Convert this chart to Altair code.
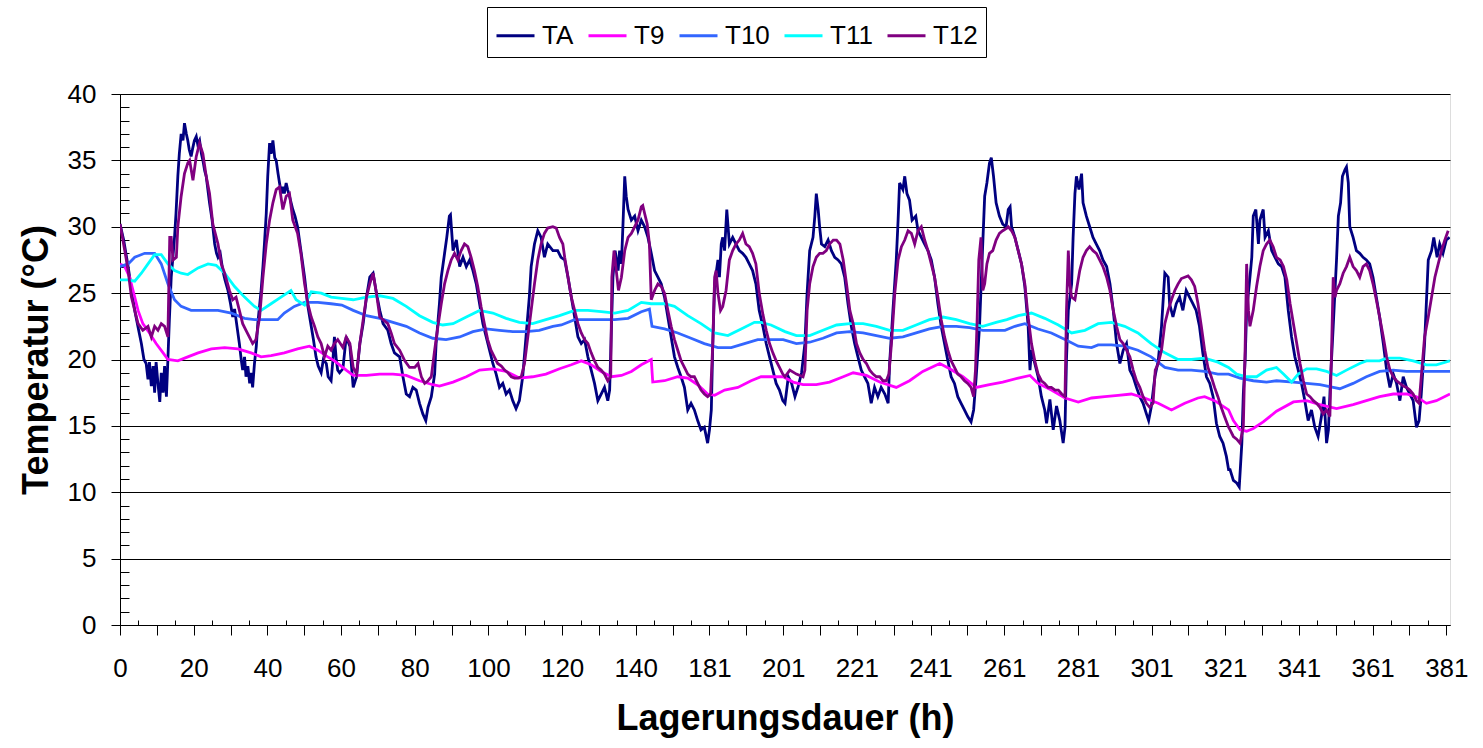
import altair as alt
import pandas as pd

# ---------------- data (x = position on the category axis, y = temperature in °C) -------------
SERIES = ["TA", "T9", "T10", "T11", "T12"]
COLORS = ["#000080", "#FF00FF", "#3366FF", "#00FFFF", "#800080"]

# tick positions and their texts (the axis jumps from 140 h to 181 h because of a gap in the record)
TICK_POS = [0, 20, 40, 60, 80, 100, 120, 140, 160, 180, 200, 220, 240, 260, 280, 300, 320, 340, 360]
TICK_TEXT = ["0", "20", "40", "60", "80", "100", "120", "140", "181", "201", "221", "241",
             "261", "281", "301", "321", "341", "361", "381"]

TA = [
    (0, 30.2), (1, 29), (2.2, 27), (3, 25.5), (4, 23.7), (5, 22.3), (5.8, 21.2), (6.5, 20), (7.1, 19.7),
    (7.6, 18.5), (8, 19.8), (8.5, 18), (9, 19.5), (9.4, 17.5), (9.8, 19.8), (10.3, 18.2), (10.8, 16.8),
    (11.2, 19), (11.7, 17.5), (12.1, 19.5), (12.6, 17.2), (13, 20), (13.4, 23), (13.9, 26.2), (14.3, 27.5),
    (14.8, 29.2), (15.2, 31), (15.7, 33.8), (16.1, 35.5), (16.6, 37), (17.1, 36.5), (17.5, 37.8), (18, 37),
    (18.4, 36.5), (18.8, 35.8), (19.3, 35.3), (19.8, 36), (20.2, 36.5), (20.7, 36.8), (21.1, 36.2),
    (21.6, 36.5), (22.1, 35.5), (22.5, 35), (23, 34.2), (23.4, 33.8), (24.3, 31.8), (25, 30.5), (25.7, 28.7),
    (26.2, 28), (26.6, 27.7), (27.2, 28), (27.9, 26.7), (28.5, 26), (29.3, 25.2), (30, 24.2), (30.6, 23.2),
    (31.1, 23.8), (31.5, 23), (32.4, 21.2), (32.9, 20), (33.3, 19.2), (33.8, 20.2), (34.2, 18.7), (34.7, 19.5),
    (35.2, 18.2), (35.6, 19), (36, 17.9), (36.5, 19.7), (37, 21), (37.4, 22.7), (38.3, 25.2), (38.8, 27),
    (39.2, 28.7), (39.7, 31), (40.1, 33.8), (40.6, 36.3), (41, 35.5), (41.5, 36.5), (42, 35.2), (42.4, 35),
    (42.9, 34), (43.3, 33.3), (43.8, 32.5), (44.2, 33), (44.6, 32.5), (45.1, 33.3), (45.5, 32.8), (46, 32.3),
    (46.9, 31.3), (47.5, 30.8), (48.2, 30), (49.1, 28.2), (50.1, 26.2), (51, 24), (51.9, 22.5), (52.5, 21.5),
    (53.2, 20.2), (53.8, 19.5), (54.6, 19), (55.2, 20), (56, 19.7), (56.5, 18.7), (57.3, 18.4), (57.8, 20),
    (58.2, 21.7), (58.7, 20), (59.1, 19.2), (59.6, 19),
    (60.5, 19.3), (61.4, 21.7), (62.4, 21), (63.3, 17.9), (64.2, 18.7), (65.1, 21.2), (66, 22.7), (66.9, 24.7),
    (67.8, 26.2), (68.7, 26.5), (69.6, 25), (70.5, 23.7), (71.4, 22.7), (72.7, 22.2), (73.6, 21.2), (74.5, 20.5),
    (75.9, 20.2), (76.8, 18.7), (77.7, 17.4), (78.6, 17.2), (79.5, 17.9), (80.4, 17.7), (81.3, 16.7),
    (82.2, 15.9), (83, 15.4), (83.6, 16.4), (84.5, 17.2), (85.4, 18.9), (85.8, 21.2), (86.7, 24.2),
    (87.2, 26.2), (88.1, 28), (88.7, 29.2), (89.4, 30.8), (89.7, 30.9), (90.4, 28.2), (91.3, 29), (92.2, 27),
    (93.1, 27.7), (94, 27), (94.9, 27.5), (95.8, 26.7), (96.7, 25.7), (97.6, 24.2), (98.5, 22.7), (99.4, 21.7),
    (100.3, 20.7), (101.2, 19.7), (102.1, 18.9), (103, 17.9), (103.9, 18.2), (104.8, 17.4), (105.7, 17.7),
    (106.6, 16.9), (107.5, 16.3), (108.4, 16.9), (109.3, 18.7), (110.2, 21.7), (111.1, 24.7), (111.6, 27),
    (112.5, 28.7), (113.4, 29.7), (114.3, 29.2), (115.2, 27.7), (116.1, 28.7), (117.5, 28.2), (118.8, 28.2),
    (119.7, 27.7),
    (120.7, 27.5), (121.6, 26.2), (122.5, 24.7), (123.4, 23.2), (124.3, 21.7), (125.2, 21.2), (126.1, 21.5),
    (127, 20.2), (127.9, 19.2), (128.8, 18.2), (129.7, 16.9), (130.6, 17.4), (131.5, 17.9), (132.4, 16.9),
    (132.9, 17.7), (133.4, 22.5), (133.8, 26.2), (134.4, 28.2), (135.2, 26.7), (135.6, 28.2), (136.1, 27.2),
    (136.5, 30), (137, 33.8), (137.4, 32.3), (137.9, 31.3), (138.8, 30.5), (139.7, 30.8), (140.6, 29.7),
    (141.5, 30.5), (142.4, 30), (143.3, 29.2), (144.2, 28), (145.1, 26.7), (146, 26.2), (146.9, 25.7),
    (147.8, 24.7), (148.7, 23.2), (149.6, 21.7), (150.5, 20.2), (151.4, 19.4), (152.3, 18.7), (153.2, 17.9),
    (154.1, 16.2), (155, 16.7), (155.9, 16.2), (156.8, 15.4), (157.7, 14.7), (158.6, 14.9), (159.5, 13.7),
    (160, 14.7), (160.5, 16.2), (160.9, 21.2), (161.4, 25.7), (162.3, 27.5), (162.7, 26.2), (163.2, 28.7),
    (163.6, 29.2), (164.1, 28.2), (164.7, 31.3), (165.4, 28.7), (166.3, 29.2), (167.2, 28.7), (168.1, 28.2),
    (169, 28), (169.9, 27.7), (170.8, 27.2), (171.7, 26.7), (172.6, 25.7), (173.5, 23.7), (174.5, 22.5),
    (175.4, 21.2), (176.3, 20.2), (177.2, 19.2), (178.1, 18.2), (179, 17.7), (179.9, 16.9),
    (180.5, 16.7), (181.4, 18.7), (182.3, 18.2), (183.2, 17.2), (184.1, 18), (185, 19), (185.9, 21.2),
    (186.5, 25), (187.2, 28.2), (188.1, 29.2), (188.6, 30.8), (189, 32.5), (189.5, 31.3), (189.9, 30),
    (190.4, 28.7), (191.3, 28.5), (192.2, 29), (193.1, 28.2), (194, 27.7), (194.9, 27.5), (195.8, 27.2),
    (196.7, 26.2), (197.6, 24.2), (198.5, 22.5), (199.4, 21.2), (200.3, 20.2), (201.2, 19.2), (202.1, 18.7),
    (203, 18.2), (203.9, 16.7), (204.8, 17.9), (205.7, 17.2), (206.6, 17.9), (207.6, 17.4), (208.5, 16.7),
    (208.9, 19.7), (209.8, 23.7), (210.7, 27.5), (211.2, 30.5), (211.6, 33.3), (212.5, 32.8), (213, 33.8),
    (213.6, 32.5), (214.3, 32), (215, 30.5), (216, 30.8), (216.6, 29.7), (217.5, 29.2), (218.4, 28.7),
    (219.3, 28.2), (220.2, 27.5), (221.1, 26.2), (222, 24.2), (222.9, 22.5), (223.8, 21.2), (224.7, 19.9),
    (225.6, 18.7), (226.5, 18.2), (227.4, 17.2), (228.3, 16.7), (229.2, 16.2), (230.1, 15.7), (231, 15.3),
    (231.7, 16.2), (232.4, 18.7), (233.3, 22.5), (234, 27.5), (234.7, 32.3), (235.3, 33.3), (236, 34.8),
    (236.5, 35.2), (237.1, 33.8), (237.8, 31.8), (238.7, 30.8), (239.6, 30.2), (240.5, 30),
    (241.1, 31.3), (241.6, 31.5), (242, 30), (242.9, 29.2), (243.8, 28.2), (244.7, 27.2), (245.6, 25.5),
    (246.5, 22.5), (247, 19.2), (247.4, 20.7), (248.3, 19.7), (249.2, 18.7), (250.1, 17.2), (251, 16.2),
    (251.5, 15.2), (252.4, 17), (253.3, 14.7), (254.2, 16.5), (255.1, 15.4), (256, 13.7), (256.5, 14.9),
    (256.9, 20), (257.4, 23.7), (258.3, 25.7), (258.7, 29.2), (259.2, 32.5), (259.6, 33.8), (260.3, 32.8),
    (261, 34), (261.4, 31.8), (262.3, 30.8), (263.2, 30), (264.1, 29.2), (265, 28.7), (265.9, 28.2),
    (266.8, 27.5), (267.8, 27), (268.7, 25.7), (269.6, 23.7), (270.5, 21.2), (271.4, 19.7), (272.3, 20.7),
    (273.2, 21.2), (274.1, 19.2), (275, 18.7), (275.9, 17.9), (276.8, 17.2), (277.7, 16.7), (278.6, 15.9),
    (279.2, 15.4), (279.9, 16.4), (280.9, 18.7), (281.8, 19.9), (282.7, 22.5), (283.6, 26.5), (284.5, 26.2),
    (284.9, 24.2), (285.8, 23.2), (286.7, 24.2), (287.6, 24.7), (288.5, 23.7), (289.4, 25.2), (290.3, 24.7),
    (291.2, 24.2), (292.1, 23.7), (293, 22.5), (293.9, 20.5), (294.9, 18.7), (295.8, 18.2), (296.7, 17.2),
    (297.6, 15.2), (298.5, 14.2), (299.4, 13.7), (300.3, 12.7), (300.9, 11.7),
    (301.3, 11.7), (302.2, 10.9), (303.1, 10.7), (303.8, 10.4), (304.5, 13.7), (304.9, 17.4), (305.4, 20),
    (305.8, 23.7), (306.7, 26.2), (307.2, 27.7), (307.6, 30.8), (308.3, 31.3), (309, 28.7), (309.4, 30.5),
    (310.3, 31.3), (310.8, 29.2), (311.7, 29.7), (312.6, 28.2), (313.5, 27.7), (314.4, 27.2), (315.3, 27),
    (316.2, 26.2), (317.1, 23.7), (318, 21.7), (318.9, 20.2), (319.8, 19.2), (320.7, 18.2), (321.6, 16.9),
    (322.5, 15.4), (323.4, 16.2), (324.3, 14.9), (325.2, 14.2), (326.1, 15.7), (326.8, 17.2), (327.5, 13.7),
    (328, 14.7), (328.6, 18.7), (329.3, 22.5), (330.2, 27.5), (330.7, 30.8), (331.3, 31.8), (331.8, 33.8),
    (332.5, 34.3), (332.9, 34.5), (333.4, 33.3), (333.8, 30), (334.7, 29.2), (335.6, 28.2), (336.5, 28),
    (337.4, 27.7), (338.3, 27.5), (339.2, 27.2), (340.1, 26.2), (341, 24.7), (341.9, 23.2), (342.9, 21.2),
    (343.8, 19.2), (344.7, 17.9), (345.6, 18.9), (346.5, 18.2), (347.4, 16.9), (348.3, 18.7), (349.2, 17.9),
    (350.1, 17.4), (351, 16.9), (351.9, 14.9), (352.6, 15.4), (353.2, 17.4), (354.1, 21.2), (355.1, 27.5),
    (356, 28.2), (356.6, 29.2), (357.5, 27.7), (358.2, 28.7), (359.1, 28), (360, 29), (360.9, 29.2),
]

T9 = [
    (0, 27.2), (1.3, 27), (2.6, 26.2), (4, 24.7), (4.9, 23.7), (6.2, 22.7), (8, 22), (9.8, 21.2), (11.7, 20.5),
    (13, 20), (15.7, 19.9), (18.4, 20.2), (21.2, 20.5), (24.8, 20.8), (28.4, 20.9), (32, 20.8), (35.6, 20.5),
    (38.3, 20.2), (41, 20.3), (44.6, 20.5), (48.2, 20.8), (51.4, 21), (53.7, 20.7), (56.4, 20.2), (58.2, 19.9),
    (59.6, 19.6), (61.4, 19.2), (63.3, 18.8), (66.9, 18.8), (70.5, 18.9), (74.1, 18.9), (77.7, 18.8),
    (81.3, 18.4), (84.9, 18.1), (86.7, 18), (90.4, 18.3), (94, 18.7), (97.6, 19.2), (101.2, 19.3),
    (104.8, 19.1), (108.4, 18.6), (112, 18.7), (115.6, 18.9), (119.3, 19.3),
    (122.5, 19.6), (125.2, 19.9), (127.9, 19.6), (130.6, 19.1), (133.4, 18.7), (136.1, 18.8), (138.8, 19.1),
    (141.5, 19.6), (144.2, 20), (144.6, 18.3), (147.8, 18.4), (151.4, 18.7), (154.1, 18.6), (156.8, 18.1),
    (159.5, 17.4), (161.4, 17.3), (164.1, 17.7), (167.7, 17.9), (171.3, 18.4), (174, 18.7), (176.7, 18.7),
    (180, 18.7), (182.7, 18.3), (185.4, 18.1), (189, 18.1), (192.6, 18.3), (196.3, 18.7), (199, 19),
    (202.6, 18.8), (206.2, 18.3), (210.7, 17.9), (214.3, 18.4), (217.9, 19.1), (222.5, 19.7), (225.2, 19.3),
    (228.8, 18.7), (232.4, 17.9), (236, 18.1), (239.6, 18.3),
    (243.8, 18.6), (247, 18.8), (249.2, 18.2), (252.8, 17.7), (256.5, 17.1), (260.1, 16.8), (263.7, 17.1),
    (267.3, 17.2), (270.9, 17.3), (274.5, 17.4), (278.1, 17.1), (281.8, 16.7), (285.4, 16.2), (289, 16.7),
    (292.6, 17.1), (294.4, 17.2), (297.1, 16.9), (300.9, 16.2),
    (302.2, 15.4), (304, 14.7), (305.8, 14.6), (307.6, 14.8), (310.3, 15.3), (313.9, 16.1), (318.5, 16.8),
    (322.1, 16.9), (325.7, 16.6), (330.2, 16.3), (334.7, 16.6), (338.3, 16.9), (341.9, 17.2), (345.6, 17.4),
    (349.2, 17.4), (351.9, 17.2), (354.6, 16.7), (357.3, 16.9), (361, 17.4),
]

T10 = [
    (0, 27), (2.2, 27.2), (4, 27.7), (6.7, 28), (9.4, 28), (11.2, 27.2), (13, 25.7), (14.8, 24.5), (16.6, 24),
    (19.3, 23.7), (23, 23.7), (26.6, 23.7), (30.2, 23.5), (33.8, 23.1), (36.5, 23), (39.2, 23), (42.8, 23),
    (44.6, 23.5), (47.3, 24), (50.1, 24.3), (53.7, 24.3), (57.3, 24.2), (60.2, 24.1),
    (63.3, 23.7), (66.9, 23.3), (70.5, 23.1), (74.1, 22.8), (77.7, 22.5), (81.3, 22), (84.9, 21.6),
    (88.5, 21.5), (92.2, 21.7), (95.8, 22.1), (99.4, 22.3), (103, 22.2), (106.6, 22.1), (110.2, 22.1),
    (113.8, 22.2), (117.5, 22.5), (119.8, 22.6),
    (123.4, 23), (127, 23), (130.6, 23), (134.3, 23), (137.9, 23.1), (141.5, 23.6), (143.7, 23.8),
    (144.4, 22.5), (147.8, 22.3), (151.4, 22), (155, 21.6), (158.6, 21.2), (162.3, 20.9), (165.9, 20.9),
    (169.5, 21.2), (173.1, 21.5), (176.7, 21.5), (180, 21.5),
    (183.6, 21.2), (187.2, 21.3), (190.8, 21.6), (194.5, 22), (198.1, 22.1), (201.7, 22), (205.3, 21.8),
    (208.9, 21.6), (212.5, 21.7), (216.1, 22), (219.7, 22.3), (223.4, 22.5), (227, 22.5), (230.6, 22.4),
    (234.2, 22.2), (237.8, 22.2), (240.2, 22.2),
    (242.9, 22.5), (245.6, 22.7), (249.2, 22.3), (252.8, 22), (256.5, 21.5), (260.1, 21), (263.7, 20.9),
    (265.5, 21.1), (269.1, 21.1), (272.7, 21), (276.3, 20.7), (279.9, 20.2), (283.6, 19.4), (287.2, 19.2),
    (290.8, 19.2), (294.4, 19.1), (298, 18.9), (300.9, 18.9),
    (304, 18.6), (307.6, 18.4), (311.2, 18.3), (313.9, 18.4), (318.5, 18.3), (322.1, 18.2), (325.7, 18.1),
    (329.3, 17.9), (331.1, 17.8), (334.7, 18.2), (338.3, 18.7), (341.9, 19.1), (345.6, 19.2), (349.2, 19.1),
    (352.8, 19.1), (356.4, 19.1), (361, 19.1),
]

T11 = [
    (0, 26), (2.2, 26), (4, 25.9), (5.8, 26.5), (7.6, 27.2), (9.4, 27.9), (11.2, 27.9), (13, 27.2),
    (14.8, 26.7), (16.6, 26.5), (18.4, 26.4), (21.2, 26.9), (23.9, 27.2), (26.1, 27.1), (28.4, 26.5),
    (31.1, 25.5), (33.8, 24.7), (36.5, 24), (38.3, 23.7), (41, 24.2), (43.7, 24.7), (46.4, 25.2),
    (47.8, 24.5), (50.1, 24.1), (51.9, 25.1), (54.6, 25), (57.3, 24.7), (60.2, 24.6),
    (63.3, 24.5), (66.9, 24.7), (70.5, 24.8), (74.1, 24.6), (77.7, 24), (81.3, 23.3), (84.9, 22.8),
    (87.6, 22.6), (90.4, 22.7), (94, 23.2), (97.6, 23.7), (101.2, 23.5), (104.8, 23.1), (108.4, 22.8),
    (112, 22.7), (115.6, 23), (119.3, 23.3),
    (123.4, 23.7), (127, 23.7), (130.6, 23.6), (134.3, 23.5), (137.9, 23.7), (141.5, 24.3), (144.2, 24.2),
    (147.8, 24.2), (150.5, 24), (154.1, 23.3), (157.7, 22.7), (161.4, 22), (165, 21.8), (168.6, 22.3),
    (172.2, 22.8), (174, 22.8), (176.7, 22.6), (180.5, 22.1),
    (183.6, 21.8), (187.2, 21.8), (190.8, 22.2), (194.5, 22.6), (198.1, 22.7), (201.7, 22.7), (205.3, 22.5),
    (208.9, 22.2), (212.5, 22.2), (216.1, 22.6), (219.7, 23), (223.4, 23.2), (227, 23), (230.6, 22.7),
    (234.2, 22.5), (237.8, 22.8), (240.7, 23),
    (243.8, 23.3), (247.4, 23.5), (251, 23.1), (254.7, 22.6), (258.3, 22), (261.9, 22.2), (265.5, 22.7),
    (269.1, 22.8), (272.7, 22.5), (276.3, 22), (279.9, 21.2), (283.6, 20.5), (287.2, 20), (290.8, 20),
    (294.4, 20.1), (298, 19.8), (300.9, 19.4),
    (303.1, 18.9), (305.8, 18.7), (308.5, 18.7), (311.2, 19.2), (313.9, 19.4), (315.8, 18.9), (318, 18.3),
    (319.8, 18.9), (322.1, 19.3), (324.8, 19.3), (327.5, 19.1), (330.2, 18.8), (332.9, 19.2), (336.5, 19.7),
    (338.3, 19.9), (341.9, 19.9), (343.8, 20.1), (347.4, 20.1), (351, 19.9), (354.6, 19.6), (357.3, 19.6),
    (361, 19.9),
]

T12 = [
    (0, 30.2), (1.3, 28.2), (2.2, 26.7), (3.1, 24.7), (4, 23.7), (4.9, 22.7), (6.2, 22.2), (7.6, 22.5),
    (8.5, 21.7), (9.4, 22.5), (10.3, 22.2), (11.2, 22.7), (12.1, 22.5), (13, 21.7), (13.5, 29.2),
    (13.9, 29.2), (14.4, 27.5), (15.3, 27.7), (15.7, 30), (16.6, 32.3), (17.5, 34), (18.4, 34.8), (18.9, 35),
    (19.8, 33.5), (20.7, 35.3), (21.6, 36.3), (22.5, 35.5), (23.4, 33.8), (24.3, 32.5), (25.2, 30.2),
    (26.6, 28.7), (27.5, 27.2), (28.4, 26.5), (29.7, 25.2), (30.6, 24.5), (31.5, 24.7), (32.4, 23.7),
    (33.3, 22.7), (34.2, 22.2), (35.1, 21.7), (36, 21.2), (36.9, 21.5), (37.9, 23.2), (38.8, 26.2),
    (39.7, 28.7), (40.6, 30.5), (41.5, 31.8), (42.4, 32.8), (43.3, 33), (44.2, 31.3), (45.1, 32.3),
    (46, 32.5), (46.9, 30.5), (48.2, 29.5), (49.1, 28), (50.1, 25.7), (51, 24.2), (51.9, 23.2), (52.8, 22.5),
    (53.7, 21.7), (54.6, 21.2), (55.5, 20.2), (56.4, 21), (57.3, 20.7), (58.2, 21.2), (59.1, 21.5),
    (60.5, 20.9), (61.4, 21.7), (62.4, 21.2), (63.3, 19.4), (64.2, 18.9), (65.1, 21.2), (66, 23), (66.9, 24.7),
    (67.8, 25.7), (68.7, 26.5), (69.6, 25), (70.5, 23.2), (71.4, 23), (72.7, 22.7), (73.6, 22), (74.5, 21.2),
    (75.9, 20.7), (77.3, 19.9), (78.6, 19.4), (80, 19.4), (80.9, 19.7), (81.8, 18.7), (82.7, 18.2),
    (83.6, 18.4), (84.5, 18.7), (85.4, 20.7), (86.3, 22.5), (87.2, 24.2), (88.1, 25.7), (89, 26.7),
    (89.9, 27.5), (90.8, 28), (91.7, 27.5), (92.6, 28.2), (93.5, 28.7), (94.4, 28.5), (95.3, 27.7),
    (96.2, 26.7), (97.1, 25.5), (98, 24), (98.9, 22.7), (99.8, 21.5), (100.7, 20.7), (101.6, 20.2),
    (102.5, 19.7), (103.5, 19.5), (104.4, 19.2), (105.3, 19), (106.2, 18.7), (107.1, 18.6), (108, 18.6),
    (108.9, 18.7), (109.8, 19.7), (110.7, 21.7), (111.6, 23.7), (112.5, 25.7), (113.4, 27.5), (114.3, 28.7),
    (115.2, 29.5), (116.1, 29.9), (117.5, 30), (118.4, 29.9), (119.3, 29.2), (120.2, 28.7),
    (120.7, 27.7), (121.6, 26.2), (122.5, 24.7), (123.4, 23.7), (124.3, 22.7), (125.2, 22), (126.1, 21.5),
    (127, 21.2), (127.9, 20.5), (128.8, 19.9), (129.7, 19.4), (130.6, 19.2), (131.5, 18.9), (132.4, 18.4),
    (133.2, 18.7), (133.5, 26.2), (134.1, 28.2), (134.7, 26.7), (135.3, 25.2), (136.1, 26.2), (137, 28.2),
    (137.9, 29.2), (138.8, 29.5), (139.7, 30), (140.6, 30.5), (141.5, 31.5), (141.9, 31.6), (142.4, 31),
    (143.1, 30.2), (143.7, 28.7), (144.2, 24.5), (145.1, 25.2), (146, 25.7), (146.9, 25.5), (147.8, 25),
    (148.7, 23.7), (149.6, 22.5), (150.5, 21.5), (151.4, 20.7), (152.3, 19.9), (153.2, 19.4), (154.1, 18.9),
    (155, 18.7), (155.9, 18.7), (156.8, 18.2), (157.7, 17.7), (158.6, 17.4), (159.5, 17.2), (160.3, 17.4),
    (160.9, 21.2), (161.4, 26.2), (161.8, 26.7), (162.3, 25), (163, 23.7), (163.6, 24), (164.5, 25.2),
    (165.4, 27.5), (166.3, 28.2), (167.2, 28.7), (168.1, 29), (169, 29.5), (169.9, 28.7), (170.8, 28.5),
    (171.7, 28), (172.6, 27.2), (173.5, 25), (174.5, 23.4), (175.4, 22.2), (176.3, 21.2), (177.2, 20.5),
    (178.1, 19.9), (179, 19.4), (179.9, 18.9), (180.5, 18.7),
    (181.8, 19.2), (183.6, 18.9), (185.4, 18.7), (185.9, 19.2), (186.5, 23.7), (187.2, 25.7), (188.1, 27),
    (189, 27.7), (189.9, 28), (190.8, 28), (191.7, 28.2), (192.6, 28.7), (193.6, 29), (194.5, 29),
    (195.4, 28.7), (196.3, 27.5), (197.2, 25.7), (198.1, 23.7), (199, 22.7), (199.9, 21.2), (200.8, 20.5),
    (201.7, 20), (202.6, 19.7), (203.5, 19.2), (204.4, 18.9), (205.3, 18.7), (206.2, 18.7), (207.1, 18.4),
    (208, 18.4), (208.7, 18.9), (209.4, 21.2), (210.3, 25), (211.2, 27.5), (212.1, 28.5), (213, 29),
    (213.9, 29.7), (214.8, 29.5), (215.7, 28.7), (216.6, 29.7), (217.5, 30), (218.4, 29), (219.3, 28.2),
    (220.2, 27.2), (221.1, 26.2), (222, 24.7), (222.9, 23), (223.8, 21.7), (224.7, 20.7), (225.6, 19.9),
    (226.5, 19.4), (227.4, 18.9), (228.3, 18.7), (229.2, 18.4), (230.1, 18.2), (231, 17.9), (231.7, 17.2),
    (232.2, 19.2), (232.6, 22.5), (233.1, 27.5), (233.7, 29.2), (234.2, 25.2), (234.7, 25.7), (235.3, 27.2),
    (236, 28), (236.9, 28.2), (237.8, 29), (238.7, 29.5), (239.6, 29.7), (240.7, 29.9),
    (241.1, 30), (242, 29.7), (242.9, 29.2), (243.8, 28.2), (244.7, 27.2), (245.6, 25.7), (246.5, 23.2),
    (247.4, 21.2), (248.3, 19.9), (249.2, 18.9), (250.1, 18.4), (251, 18.2), (251.9, 17.9), (252.8, 17.9),
    (253.8, 17.7), (254.7, 17.7), (255.6, 17.4), (256.5, 17.2), (256.9, 23.7), (257.4, 28.2), (257.8, 25.7),
    (258.3, 24.7), (259.2, 24.5), (259.6, 25.2), (260.5, 26.7), (261.4, 27.7), (262.3, 28.2), (263.2, 28.5),
    (264.1, 28.2), (265, 28), (265.9, 27.5), (266.8, 27), (267.8, 26.2), (268.7, 25.2), (269.6, 23.7),
    (270.5, 22.5), (271.4, 21.5), (272.3, 21.2), (273.2, 20.7), (274.1, 20.2), (275, 19.2), (275.9, 18.4),
    (276.8, 17.9), (277.7, 17.2), (278.6, 16.7), (279.5, 16.4), (280.4, 16.7), (281, 19.2), (281.8, 19.7),
    (282.7, 20.7), (283.6, 22.7), (284.5, 23.7), (285.4, 24.5), (286.3, 25.2), (287.2, 25.7), (288.1, 26.1),
    (289, 26.2), (289.9, 26.3), (290.8, 26), (291.7, 25.5), (292.6, 24.2), (293.5, 22.5), (294.4, 20.7),
    (295.3, 19.4), (296.2, 18.7), (297.1, 17.9), (298, 17.2), (298.9, 16.4), (299.8, 15.7), (300.9, 14.9),
    (301.3, 14.7), (302.2, 14.2), (303.1, 14), (304, 13.7), (304.9, 14.9), (305.4, 21), (305.8, 27.2),
    (306.3, 23.7), (306.7, 22.5), (307.6, 23.7), (308.5, 25.5), (309.4, 27), (310.3, 28.2), (311.2, 28.7),
    (312.1, 29), (313, 28.5), (313.9, 27.7), (314.9, 27.5), (315.8, 27), (316.7, 26), (317.6, 24.2),
    (318.5, 22.7), (319.4, 21.2), (320.3, 19.7), (321.2, 18.4), (322.1, 17.4), (323, 17.2), (323.9, 16.9),
    (324.8, 16.7), (325.7, 16.4), (326.6, 15.9), (327.5, 16.2), (328.4, 15.7), (328.9, 21.2), (329.3, 26.2),
    (329.8, 24.7), (330.2, 25.2), (331.1, 25.7), (332, 26.5), (332.9, 27), (333.8, 27.7), (334.7, 27),
    (335.6, 26.7), (336.5, 26.2), (337.4, 27), (338.3, 27.2), (339.2, 26.7), (340.1, 25.7), (341, 24.5),
    (341.9, 23.2), (342.9, 21.7), (343.8, 20.2), (344.7, 19.2), (345.6, 18.7), (346.5, 18.4), (347.4, 18.2),
    (348.3, 18), (349.2, 17.9), (350.1, 17.7), (351, 17.4), (351.9, 16.9), (352.6, 16.7), (353.2, 18.7),
    (354.1, 21.7), (355.1, 23.2), (356, 24.7), (356.9, 26.2), (357.8, 27.2), (358.7, 28.2), (359.6, 29),
    (360.5, 29.7),
]

SERIES_POINTS = [TA, T9, T10, T11, T12]

# ---------------- chart ----------------
FONT = "Liberation Sans"
X_MAX = 361

label_array = "[" + ",".join("'%s'" % t for t in TICK_TEXT) + "]"
x_label_expr = "datum.value % 20 === 0 ? " + label_array + "[datum.value / 20] : ''"

x_scale = alt.Scale(domain=[0, X_MAX], nice=False, zero=False)
y_scale = alt.Scale(domain=[0, 40], nice=False)

x_major_axis = alt.Axis(
    values=list(range(0, 361, 10)), labelExpr=x_label_expr, title="Lagerungsdauer (h)",
    grid=False, tickSize=10, labelPadding=20, labelFontSize=26, labelFont=FONT, labelColor="black",
    titleFontSize=36, titleFont=FONT, titleFontWeight="bold", titleColor="black", titlePadding=20,
    domainColor="black", tickColor="black", labelOverlap=False, labelFlush=False,
)
x_minor_axis = alt.Axis(
    values=list(range(5, 360, 10)), orient="bottom", offset=-5, tickSize=5, labels=False,
    domain=False, grid=False, title=None, tickColor="black",
)
y_major_axis = alt.Axis(
    values=list(range(0, 41, 5)), title="Temperatur (°C)", grid=True, gridColor="black", gridWidth=1,
    gridOpacity=1, tickSize=9, labelPadding=15, labelFontSize=26, labelFont=FONT, labelColor="black",
    titleFontSize=36, titleFont=FONT, titleFontWeight="bold", titleColor="black", titlePadding=12,
    domainColor="black", tickColor="black",
)
y_minor_axis = alt.Axis(
    values=list(range(0, 41, 1)), orient="left", offset=-9, tickSize=9, labels=False,
    domain=False, grid=False, title=None, tickColor="black",
)

color_enc = alt.Color(
    "Serie:N",
    scale=alt.Scale(domain=SERIES, range=COLORS),
    legend=alt.Legend(
        title=None, orient="none", legendX=367, legendY=-87, direction="horizontal",
        symbolType="stroke", symbolStrokeWidth=3, symbolSize=1444, labelFontSize=26, labelFont=FONT,
        labelColor="black", labelOffset=6, columnPadding=8, padding=8, strokeColor="black",
        fillColor="white",
    ),
)

layers = []
for i, (name, pts) in enumerate(zip(SERIES, SERIES_POINTS)):
    df = pd.DataFrame({"Position": [p[0] for p in pts], "Temperatur": [p[1] for p in pts], "Serie": name})
    if i == 0:
        xa, ya = x_major_axis, y_major_axis
    elif i == 1:
        xa, ya = x_minor_axis, y_minor_axis
    else:
        xa, ya = None, None
    layer = alt.Chart(df).mark_line(strokeWidth=2.8, clip=True).encode(
        x=alt.X("Position:Q", scale=x_scale, axis=xa),
        y=alt.Y("Temperatur:Q", scale=y_scale, axis=ya),
        color=color_enc,
    )
    layers.append(layer)

chart = (
    alt.layer(*layers)
    .resolve_axis(x="independent", y="independent")
    .properties(
        width=1330, height=531, background="white",
        padding={"left": 120, "top": 94, "right": 33, "bottom": 123},
        autosize=alt.AutoSizeParams(type="none"),
    )
    .configure_view(stroke="#808080", strokeWidth=1)
    .configure(font=FONT)
)

chart.save("out.html", embed_options={"renderer": "svg", "actions": False})
